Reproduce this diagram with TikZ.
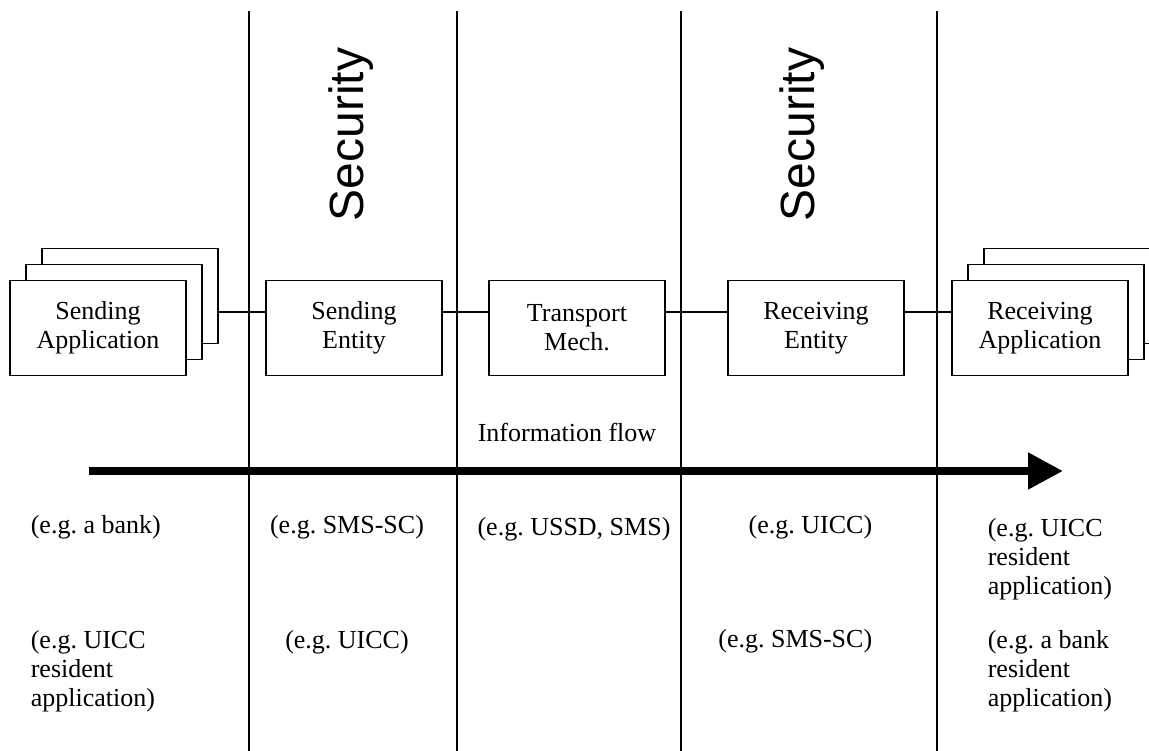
\documentclass[tikz,border=0pt]{standalone}
\usepackage{fontspec}
\setmainfont{Liberation Serif}
\newfontfamily\secfont{Liberation Sans}
\usetikzlibrary{arrows.meta}
\frenchspacing

\tikzset{
	box/.style={draw, line width=1.6pt, fill=white, minimum width=176pt, minimum height=95pt, inner sep=0pt, align=center, font=\fontsize{26}{29}\selectfont},
	lbl/.style={inner sep=0pt, align=left, font=\fontsize{26}{29}\selectfont},
	sec/.style={rotate=90, anchor=base west, inner sep=0pt, font=\secfont\fontsize{48}{48}\selectfont}
}

\begin{document}
\begin{tikzpicture}[x=1pt, y=-1pt, line width=1.6pt]
		\clip (0,0) rectangle (1149,751);
		\useasboundingbox (0,0) rectangle (1149,751);
		\foreach \x in {249, 457, 681, 937}
			\draw (\x,11) -- (\x,751);
		\node[sec] (sec1) at (363,222) {Security};
		\node[sec] (sec2) at (814,222) {Security};

		\foreach \i/\d in {3/32, 2/16}
			\node[box] (sapp\i) at (98+\d,328-\d) {};
		\node[box] (sapp1) at (98,328) {Sending\\Application};
		\node[box] (sent) at (354,328) {Sending\\Entity};
		\node[box] (tmech) at (577,328) {Transport\\Mech.};
		\node[box] (rent) at (816,328) {Receiving\\Entity};
		\foreach \i/\d in {3/32, 2/16}
			\node[box] (rapp\i) at (1040+\d,328-\d) {};
		\node[box] (rapp1) at (1040,328) {Receiving\\Application};

		\coordinate (link) at (0,312);
		\draw (sapp3.east |- link) -- (sent.west |- link);
		\draw (sent.east |- link) -- (tmech.west |- link);
		\draw (tmech.east |- link) -- (rent.west |- link);
		\draw (rent.east |- link) -- (rapp1.west |- link);

		\node[lbl, anchor=base west] (flow) at (477,441) {Information flow};
		\coordinate (flowstart) at (89,471);
		\coordinate (flowend) at (1063,471);
		\draw[line width=8pt, -{Triangle[length=35pt,width=35pt]}] (flowstart) -- (flowend);

		% multi-line labels sit on their last line
		\node[lbl, anchor=base west] (ex1) at (30,533) {(e.g. a bank)};
		\node[lbl, anchor=base west] (ex2) at (30,706) {(e.g. UICC\\resident\\application)};
		\node[lbl, anchor=base] (ex3) at (347,533) {(e.g. SMS-SC)};
		\node[lbl, anchor=base] (ex4) at (347,648) {(e.g. UICC)};
		\node[lbl, anchor=base] (ex5) at (574,535) {(e.g. USSD, SMS)};
		\node[lbl, anchor=base east] (ex6) at (873,533) {(e.g. UICC)};
		\node[lbl, anchor=base east] (ex7) at (873,647) {(e.g. SMS-SC)};
		\node[lbl, anchor=base west] (ex8) at (987,594) {(e.g. UICC\\resident\\application)};
		\node[lbl, anchor=base west] (ex9) at (987,706) {(e.g. a bank\\resident\\application)};
	\end{tikzpicture}
\end{document}
